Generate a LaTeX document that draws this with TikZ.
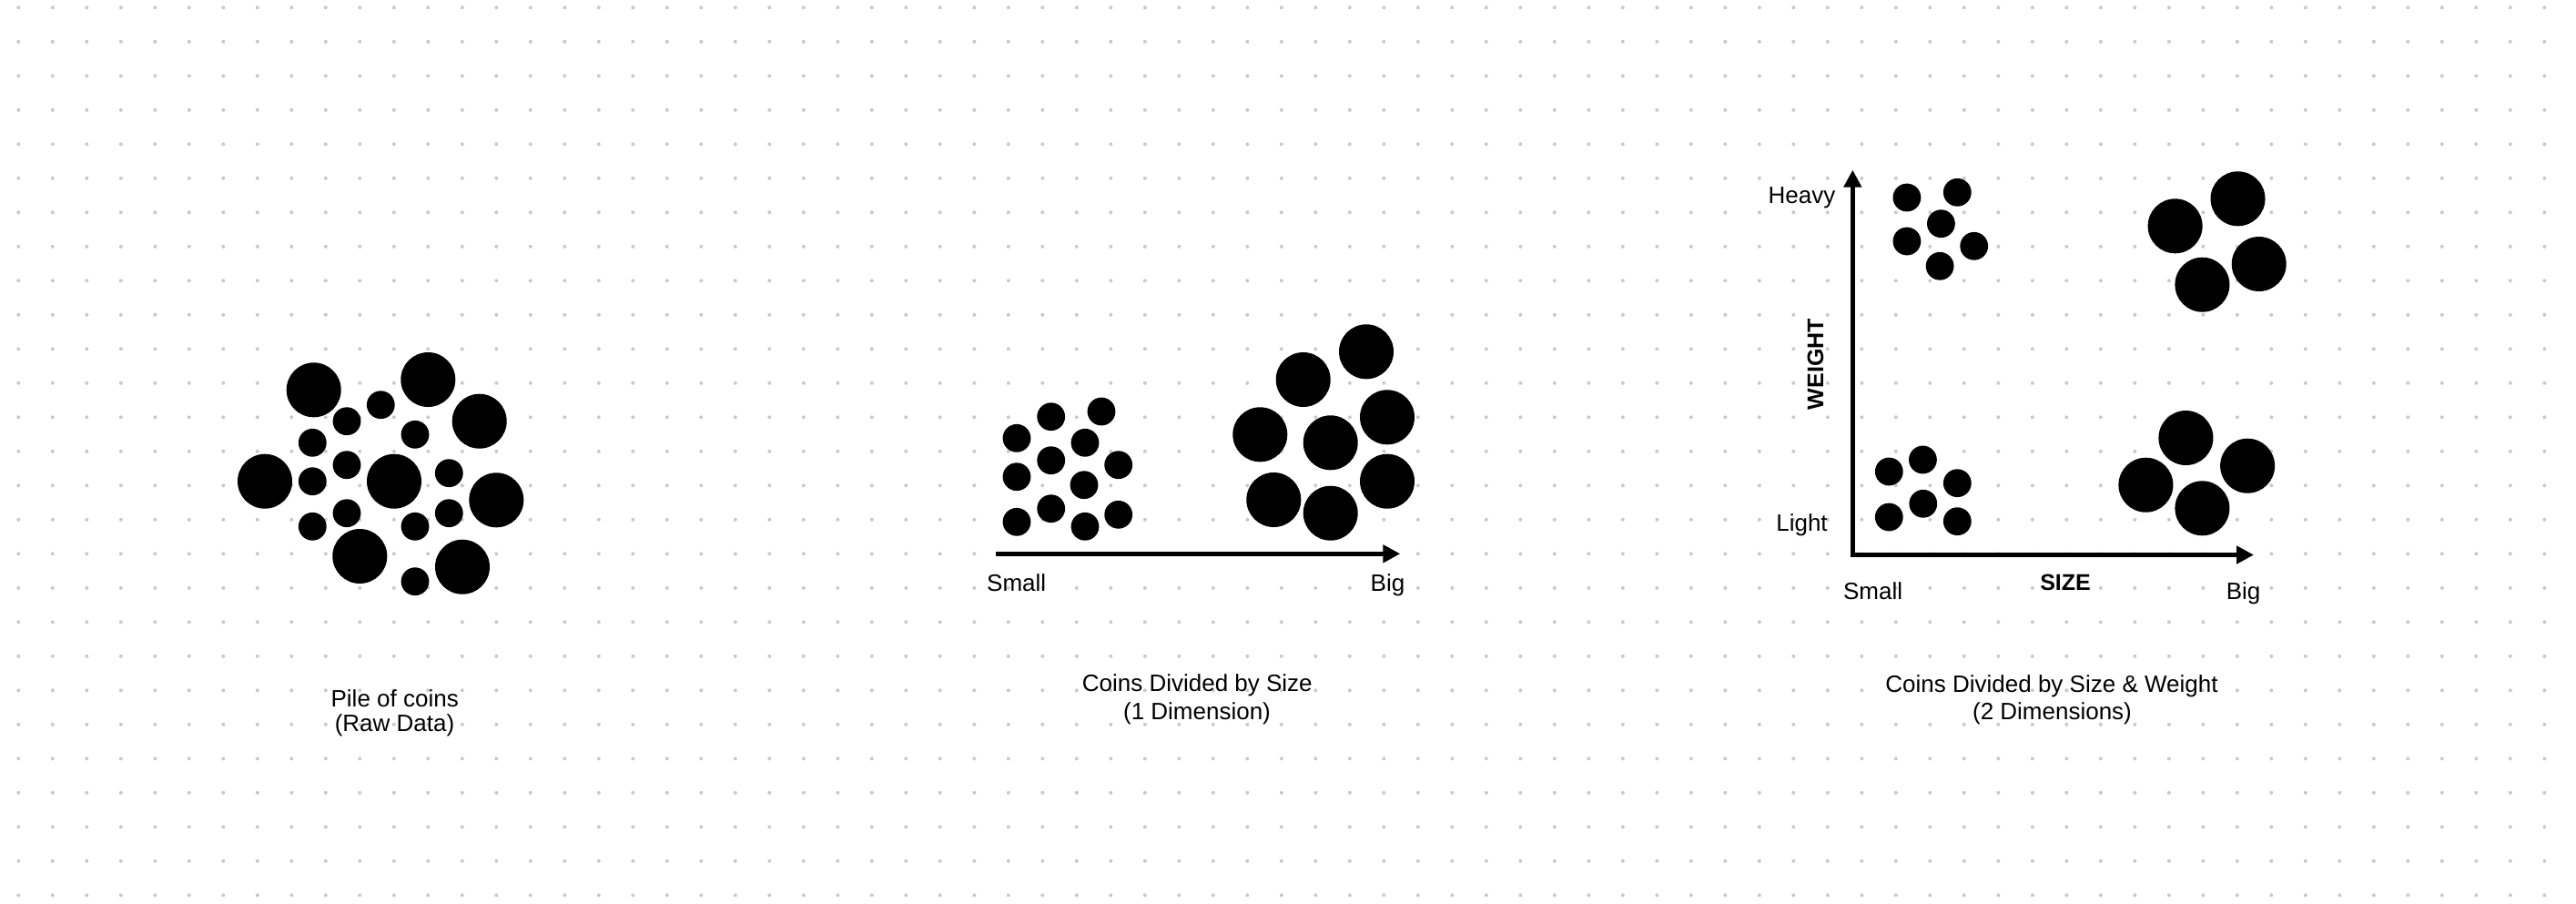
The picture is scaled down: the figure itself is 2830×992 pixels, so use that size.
\documentclass[tikz,border=0pt]{standalone}
\usepackage{fontspec}
\setmainfont{Liberation Sans}
\usetikzlibrary{arrows.meta}
\begin{document}
\begin{tikzpicture}[x=0.5pt,y=-0.5pt,
  griddot/.style={fill=black!21},
  coin/.style={fill=black},
  lbl/.style={inner sep=0pt,anchor=base,font=\fontsize{13pt}{15pt}\selectfont},
  axlbl/.style={inner sep=0pt,font=\fontsize{12.5pt}{14pt}\selectfont\bfseries},
  axis/.style={line width=2.5pt,line join=miter,arrows={-Triangle[length=9.5pt,width=9.5pt]}},
  axis2/.style={line width=2.5pt,line join=miter,arrows={Triangle[length=9.5pt,width=9.5pt]-Triangle[length=9.5pt,width=9.5pt]}}]
\fill[white] (0,0) rectangle (2830,992);
\useasboundingbox (0,0) rectangle (2830,992);
% dot grid
\foreach \i in {0,...,74}{
  \foreach \j in {0,...,26}{
    \fill[griddot] ({20.3+37.5*\i},{8.3+37.5*\j}) circle[radius=2];
  }
}
% ---- Panel 1: pile of coins
\foreach \p in {(344.7,428.3),(470.3,417),(526.7,462.7),(291,528.7),(433,528.7),(545.3,549.3),(395.3,611),(508,622.7)}
  \fill[coin] \p circle[radius=30];
\foreach \p in {(418.3,444.7),(381,462.7),(456,477.3),(343.3,486.3),(381,510.7),(343.3,528.7),(493.3,519.7),(381,563.7),(493.3,563.7),(343.3,578.3),(456,578.3),(456,638.7)}
  \fill[coin] \p circle[radius=15.4];
\node[lbl] (capA1) at (433.7,776) {Pile of coins};
\node[lbl] (capA2) at (433.5,803.5) {(Raw Data)};
% ---- Panel 2: divided by size
\foreach \p in {(1154.7,457.7),(1210,452),(1117,481.3),(1192,486.3),(1154.7,505.7),(1228.7,510.7),(1117,523.7),(1191,532.7),(1154.7,558.7),(1228.7,565.3),(1117,573.3),(1192,578.3)}
  \fill[coin] \p circle[radius=15.4];
\foreach \p in {(1501,386.3),(1431.7,417),(1384.3,477.3),(1461.7,486.3),(1524,458.3),(1524,528.7),(1399.3,549),(1461.7,563.7)}
  \fill[coin] \p circle[radius=30];
\coordinate (bStart) at (1094,608.3);
\coordinate (bEnd) at (1538.3,608.3);
\draw[axis] (bStart) -- (bEnd);
\node[lbl] (bSmall) at (1116.7,649) {Small};
\node[lbl] (bBig) at (1524.5,649) {Big};
\node[lbl] (capB1) at (1315.3,759.3) {Coins Divided by Size};
\node[lbl] (capB2) at (1315,790.7) {(1 Dimension)};
% ---- Panel 3: divided by size & weight
\foreach \p in {(2094.9,217),(2150.3,211.3),(2132.4,245.7),(2094.9,265),(2168.7,270.3),(2131.1,292.3),
                (2112.4,505),(2075.3,518),(2150.3,530.7),(2112.8,553.3),(2075.3,568),(2150.3,572.7)}
  \fill[coin] \p circle[radius=15.4];
\foreach \p in {(2389.6,248.3),(2458.5,218.3),(2481.7,290),(2419.4,312.7),
                (2401.4,481),(2469.1,511.7),(2357.4,532.7),(2419.4,558.3)}
  \fill[coin] \p circle[radius=30];
\coordinate (cTop) at (2035.3,186.7);
\coordinate (cCorner) at (2035.3,609.5);
\coordinate (cRight) at (2476,609.5);
\draw[axis2] (cTop) -- (cCorner) -- (cRight);
\node[lbl] (cHeavy) at (1979.5,223.3) {Heavy};
\node[lbl] (cLight) at (1979.5,583.3) {Light};
\node[axlbl,rotate=90] (cWeight) at (1994.5,400) {WEIGHT};
\node[lbl] (cSmall) at (2057.6,658.3) {Small};
\node[lbl] (cBig) at (2464.6,658.3) {Big};
\node[axlbl,anchor=base] (cSize) at (2269,648.3) {SIZE};
\node[lbl] (capC1) at (2254,760.7) {Coins Divided by Size \& Weight};
\node[lbl] (capC2) at (2254.5,790.7) {(2 Dimensions)};
\end{tikzpicture}
\end{document}
